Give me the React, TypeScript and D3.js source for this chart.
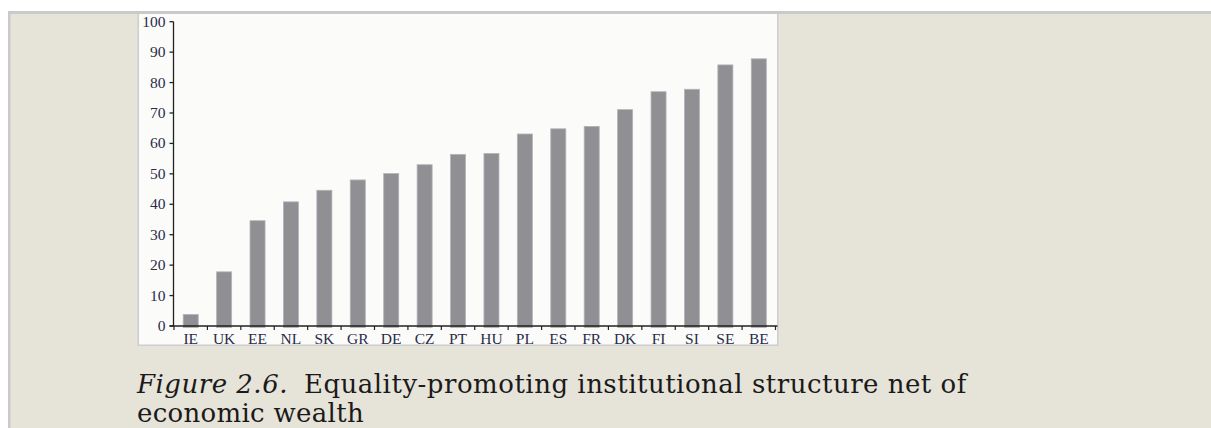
import React from 'react';
import * as d3 from 'd3';

const categories = ['IE', 'UK', 'EE', 'NL', 'SK', 'GR', 'DE', 'CZ', 'PT', 'HU', 'PL', 'ES', 'FR', 'DK', 'FI', 'SI', 'SE', 'BE'];
const values = [3.8, 17.8, 34.6, 40.8, 44.6, 48.0, 50.1, 53.0, 56.4, 56.7, 63.1, 64.8, 65.6, 71.1, 77.0, 77.8, 85.8, 87.8];
const yTicks = [0, 10, 20, 30, 40, 50, 60, 70, 80, 90, 100];
const captionLabel = 'Figure 2.6.';
const captionLine1 = 'Equality-promoting institutional structure net of';
const captionLine2 = 'economic wealth';

const W = 1211;
const H = 428;

export default function App() {
  const x = d3.scaleBand<string>().domain(categories).range([174, 775.5]).paddingInner(0.55).paddingOuter(0.275);
  const y = d3.scaleLinear().domain([0, 100]).range([326, 21.7]);
  const step = x.step();
  const boundaries = categories.map((c) => (x(c) as number) + x.bandwidth() / 2 - step / 2);
  boundaries.push(boundaries[boundaries.length - 1] + step);
  const axisColor = '#222';
  const labelColor = '#2a2b48';
  const serif = '"Liberation Serif", "Times New Roman", serif';
  const capFont = '"DejaVu Serif", serif';

  return (
    <svg width={W} height={H} style={{ position: 'absolute', left: 0, top: 0, display: 'block' }}>
      <rect x={0} y={0} width={W} height={H} fill="#ffffff" />
      {/* panel */}
      <rect x={8} y={11} width={W - 8} height={H - 11} fill="#e6e3d9" />
      <rect x={8} y={11} width={W - 8} height={3} fill="#cacaca" />
      <rect x={8} y={11} width={2.5} height={H - 11} fill="#cacaca" />
      {/* chart image */}
      <rect x={137.5} y={14} width={641} height={332} fill="#cdcdcd" />
      <rect x={139} y={14} width={638} height={330.5} fill="#fbfcfa" />

      {/* bars */}
      {categories.map((c, i) => (
        <rect
          key={c}
          x={x(c)}
          y={y(values[i])}
          width={x.bandwidth()}
          height={y(0) - y(values[i]) + 1.5}
          fill="#8f8f94"
          stroke="#b4b4b8"
          strokeWidth={0.8}
        />
      ))}

      {/* y axis */}
      <line x1={173.5} x2={173.5} y1={y(100)} y2={y(0)} stroke={axisColor} strokeWidth={1.3} />
      {yTicks.map((t) => (
        <g key={t}>
          <line x1={169.5} x2={173.5} y1={y(t)} y2={y(t)} stroke={axisColor} strokeWidth={1.3} />
          <text x={165.5} y={y(t) + 5} textAnchor="end" fontFamily={serif} fontSize={15.5} fill={labelColor}>
            {t}
          </text>
        </g>
      ))}

      {/* x axis */}
      <line x1={169.5} x2={777.5} y1={y(0)} y2={y(0)} stroke={axisColor} strokeWidth={1.3} />
      {boundaries.map((b, i) => (
        <line key={i} x1={b} x2={b} y1={y(0)} y2={y(0) + 4} stroke={axisColor} strokeWidth={1.2} />
      ))}
      {categories.map((c) => (
        <text
          key={c}
          x={(x(c) as number) + x.bandwidth() / 2}
          y={344}
          textAnchor="middle"
          fontFamily={serif}
          fontSize={15.5}
          fill={labelColor}
        >
          {c}
        </text>
      ))}

      {/* caption */}
      <text x={137} y={393} fontFamily={capFont} fontSize={26} fill="#1a1a1a" letterSpacing={0.5}>
        <tspan fontStyle="italic">{captionLabel}</tspan>
        <tspan dx={16}>{captionLine1}</tspan>
      </text>
      <text x={137} y={422} fontFamily={capFont} fontSize={26} fill="#1a1a1a" letterSpacing={0.3}>
        {captionLine2}
      </text>
    </svg>
  );
}
